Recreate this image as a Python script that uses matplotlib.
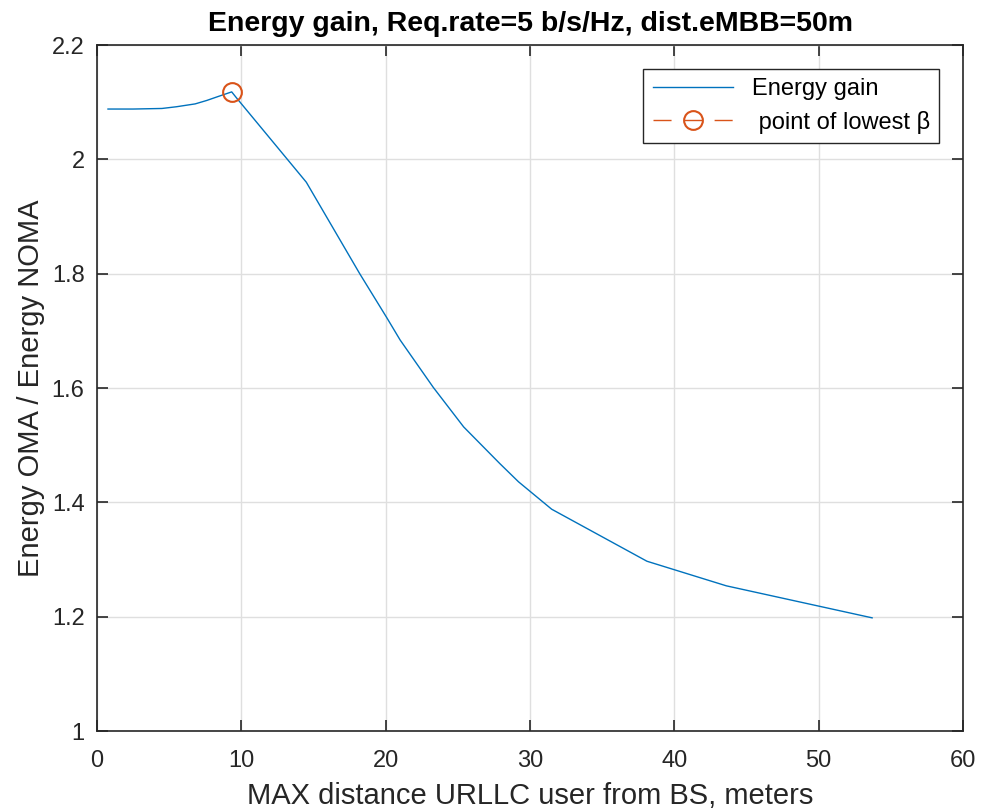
import matplotlib
matplotlib.use('Agg')
import matplotlib.pyplot as plt

# curve
dist = [0.76, 2.5, 4.5, 5.5, 6.8, 7.6, 8.4, 9.33, 9.68, 14.5, 18.2, 20.1, 21.0,
        23.3, 25.4, 27.9, 29.2, 31.5, 38.1, 43.6, 53.7]
gain = [2.088, 2.088, 2.089, 2.092, 2.097, 2.103, 2.110, 2.118, 2.107, 1.960,
        1.800, 1.722, 1.684, 1.601, 1.532, 1.468, 1.436, 1.388, 1.297, 1.254, 1.198]
beta_x = [9.33]
beta_y = [2.118]

plt.rcParams['font.family'] = ['Liberation Sans', 'DejaVu Sans']

fig = plt.figure(figsize=(9.82, 8.11), dpi=100)
ax = fig.add_axes([0.0988, 0.0986, 0.8819, 0.8459])

ax.plot(dist, gain, color='#0072BD', lw=1.0, label='Energy gain')
ax.plot(beta_x, beta_y, ls=(0, (13, 9)), marker='o', ms=13.5, mfc='none', mew=1.5,
        color='#D95319', lw=1.0, label=' point of lowest β')

ax.set_xlim(0, 60)
ax.set_ylim(1, 2.2)
ax.set_xticks(range(0, 61, 10))
ax.set_yticks([1, 1.2, 1.4, 1.6, 1.8, 2, 2.2])
ax.set_yticklabels(['1', '1.2', '1.4', '1.6', '1.8', '2', '2.2'])
ax.grid(True, color='#dfdfdf', lw=1)
ax.set_axisbelow(True)
ax.tick_params(direction='in', length=8, width=1.2, top=True, right=True,
               labelsize=17, colors='#262626')
ax.tick_params(axis='x', pad=14)
ax.tick_params(axis='y', pad=9)
for s in ax.spines.values():
    s.set_color('#262626')
    s.set_linewidth(1.2)

ax.set_title('Energy gain, Req.rate=5 b/s/Hz, dist.eMBB=50m', fontsize=20.5,
             fontweight='bold', pad=10)
ax.set_xlabel('MAX distance URLLC user from BS, meters', fontsize=21,
              color='#262626', labelpad=7)
ax.set_ylabel('Energy OMA / Energy NOMA', fontsize=21, color='#262626', labelpad=5)

leg = ax.legend(loc='upper right', fontsize=17, fancybox=False, framealpha=1,
                edgecolor='#262626', handlelength=3.4, borderaxespad=1.0,
                labelspacing=0.45)
leg.get_frame().set_linewidth(1.0)

fig.savefig('out.png', dpi=100)
